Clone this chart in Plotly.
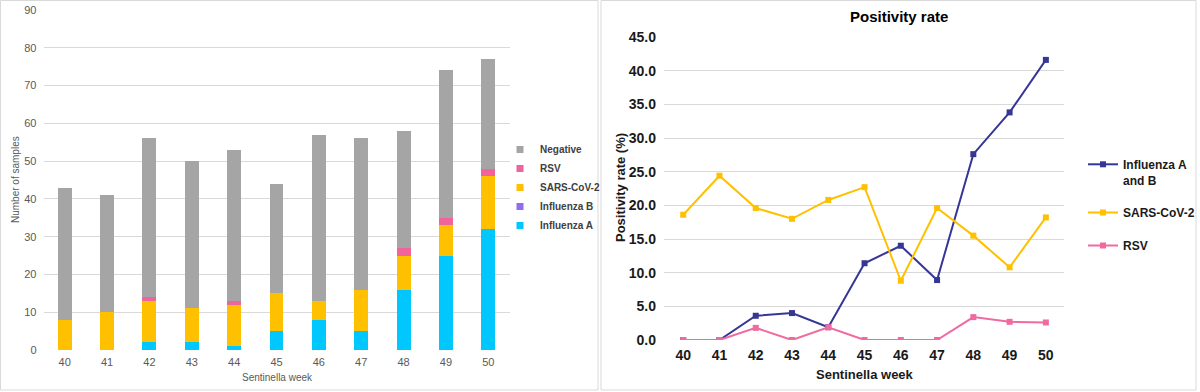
import plotly.graph_objects as go

weeks = [40, 41, 42, 43, 44, 45, 46, 47, 48, 49, 50]
week_labels = [str(w) for w in weeks]

# Number of samples (stacked)
influenza_a = [0, 0, 2, 2, 1, 5, 8, 5, 16, 25, 32]
influenza_b = [0, 0, 0, 0, 0, 0, 0, 0, 0, 0, 0]
sars_cov_2 = [8, 10, 11, 9, 11, 10, 5, 11, 9, 8, 14]
rsv = [0, 0, 1, 0, 1, 0, 0, 0, 2, 2, 2]
negative = [35, 31, 42, 39, 40, 29, 44, 40, 31, 39, 29]

# Positivity rate (%)
rate_flu = [0.0, 0.0, 3.6, 4.0, 1.9, 11.4, 14.0, 8.9, 27.6, 33.8, 41.6]
rate_covid = [18.6, 24.4, 19.6, 18.0, 20.8, 22.7, 8.8, 19.6, 15.5, 10.8, 18.2]
rate_rsv = [0.0, 0.0, 1.8, 0.0, 1.9, 0.0, 0.0, 0.0, 3.4, 2.7, 2.6]

W, H = 1200, 392
FONT = "Liberation Sans, Arial, sans-serif"

def px_x(p):
    return p / W

def px_y(p):
    return 1 - p / H

fig = go.Figure()

bar_series = [
    ("Influenza A", influenza_a, "#00c8ff"),
    ("Influenza B", influenza_b, "#8f6cf2"),
    ("SARS-CoV-2", sars_cov_2, "#ffc000"),
    ("RSV", rsv, "#f0649b"),
    ("Negative", negative, "#a5a5a5"),
]
for name, vals, col in bar_series:
    fig.add_trace(go.Bar(
        x=weeks, y=vals, name=name, marker=dict(color=col, line=dict(width=0)),
        width=0.33, xaxis="x", yaxis="y", legend="legend", legendgroup=name,
        showlegend=False,
    ))
    # compact square legend key for the bar series
    fig.add_trace(go.Scatter(
        x=[None], y=[None], name=name, mode="markers",
        marker=dict(symbol="square", size=7, color=col),
        xaxis="x", yaxis="y", legend="legend", legendgroup=name,
    ))

line_series = [
    ("Influenza A<br>and B", rate_flu, "#363696", "g1"),
    ("SARS-CoV-2", rate_covid, "#ffc000", "g2"),
    ("RSV", rate_rsv, "#f06aa0", "g3"),
]
for name, vals, col, grp in line_series:
    fig.add_trace(go.Scatter(
        x=weeks, y=vals, name=name, mode="lines+markers",
        line=dict(color=col, width=2),
        marker=dict(symbol="square", size=6, color=col),
        xaxis="x2", yaxis="y2", legend="legend2", legendgroup=grp,
    ))

def ann(text, x, y, size, color, angle=0):
    return dict(text=text, x=px_x(x), y=px_y(y), xref="paper", yref="paper",
                xanchor="center", yanchor="middle", textangle=angle,
                showarrow=False, font=dict(size=size, color=color))

fig.update_layout(
    width=W, height=H,
    margin=dict(l=0, r=0, t=0, b=0, autoexpand=False),
    paper_bgcolor="white", plot_bgcolor="white",
    barmode="stack",
    font=dict(family=FONT, size=11, color="#595959"),
    xaxis=dict(
        domain=[px_x(43.5), px_x(509.5)], range=[39.5, 50.5],
        tickmode="array", tickvals=weeks, ticktext=week_labels,
        showgrid=False, zeroline=False, showline=False, ticks="",
        tickfont=dict(size=11, color="#595959"), anchor="y",
        ticklabelstandoff=4,
    ),
    yaxis=dict(
        domain=[px_y(350), px_y(10)], range=[0, 90], dtick=10,
        showgrid=True, gridcolor="#d9d9d9", gridwidth=1,
        zeroline=False, showline=False, ticks="",
        tickfont=dict(size=11, color="#595959"), anchor="x",
        ticklabelstandoff=6,
    ),
    xaxis2=dict(
        domain=[px_x(664), px_x(1064)], range=[39.47, 50.5],
        tickmode="array", tickvals=weeks, ticktext=week_labels,
        showgrid=False, zeroline=False, showline=False, ticks="",
        tickfont=dict(size=14, color="#1a1a1a", weight="bold"), anchor="y2",
        ticklabelstandoff=5,
    ),
    yaxis2=dict(
        domain=[px_y(340), px_y(37)], range=[0, 45], dtick=5, tickformat=".1f",
        showgrid=True, gridcolor="#d9d9d9", gridwidth=1,
        zeroline=False, showline=False, ticks="",
        tickfont=dict(size=14, color="#1a1a1a", weight="bold"), anchor="x2",
        ticklabelstandoff=7,
    ),
    legend=dict(
        x=px_x(500), y=px_y(135), xanchor="left", yanchor="top",
        traceorder="reversed", bgcolor="rgba(0,0,0,0)",
        font=dict(size=10, color="#404040", family=FONT, weight="bold"),
        itemwidth=30, tracegroupgap=0,
    ),
    legend2=dict(
        x=px_x(1083), y=px_y(150), xanchor="left", yanchor="top",
        bgcolor="rgba(0,0,0,0)", valign="top",
        font=dict(size=12, color="#1a1a1a", family=FONT, weight="bold"),
        itemwidth=30, tracegroupgap=14,
    ),
    annotations=[
        ann("Number of samples", 16, 180, 10, "#595959", -90),
        ann("Sentinella week", 277, 377, 10, "#595959"),
        ann("<b>Positivity rate</b>", 899, 16, 15, "#000000"),
        ann("<b>Sentinella week</b>", 865, 374, 13, "#1a1a1a"),
        ann("<b>Positivity rate (%)</b>", 620, 188, 13, "#1a1a1a", -90),
    ],
    shapes=[
        dict(type="rect", xref="paper", yref="paper", x0=px_x(0.5), x1=px_x(598), y0=px_y(390), y1=px_y(0.5),
             line=dict(color="#d9d9d9", width=1)),
        dict(type="rect", xref="paper", yref="paper", x0=px_x(601), x1=px_x(1196), y0=px_y(390), y1=px_y(0.5),
             line=dict(color="#d9d9d9", width=1)),
    ],
)

fig.write_html("out.html", config={"displayModeBar": False},
               post_script="document.body.style.margin='0';")
